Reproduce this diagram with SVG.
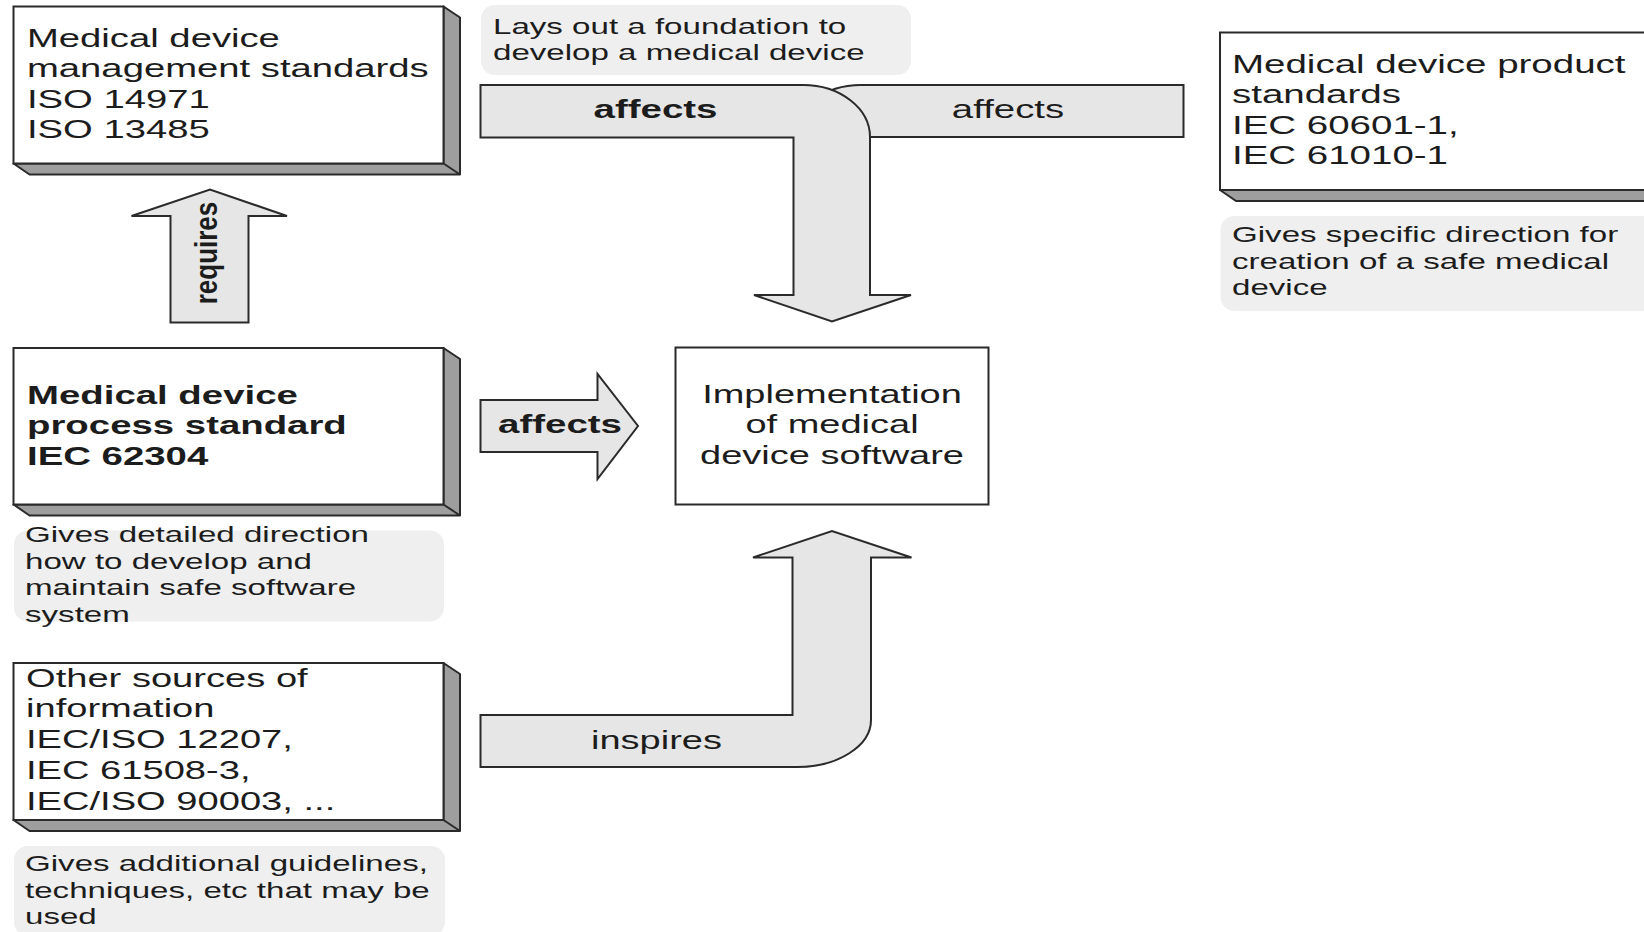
<svg xmlns="http://www.w3.org/2000/svg" width="1644" height="932" viewBox="0 0 1644 932">
  <style>
    .t { font-family: "Liberation Sans", Arial, sans-serif; font-size: 25px; fill: #1c1c1c; }
    .b { font-weight: bold; }
    .n { font-family: "Liberation Sans", Arial, sans-serif; font-size: 22px; fill: #1c1c1c; }
    .mid { text-anchor: middle; }
    .front { fill: #ffffff; stroke: #2a2a2a; stroke-width: 2; }
    .depth { fill: #9e9e9e; stroke: #2a2a2a; stroke-width: 2; stroke-linejoin: round; }
    .note { fill: #efefef; stroke: none; }
    .arrow { fill: #e6e6e6; stroke: #2a2a2a; stroke-width: 2; stroke-linejoin: miter; }
  </style>
  <rect width="1644" height="932" fill="#ffffff"/>

  <!-- connectors: block arrows -->
  <g id="connectors">
    <!-- requires (up) -->
    <g id="arrow-requires">
      <path class="arrow" d="M170.5,322.5 L170.5,216 L131.5,216 L210,189.5 L287,216 L248.5,216 L248.5,322.5 Z"/>
      <text class="t b mid" transform="translate(216.5,253) rotate(-90) scale(1.04,1.28)">requires</text>
    </g>
    <!-- affects (right arm, drawn behind) -->
    <g id="arrow-affects-right">
      <path class="arrow" d="M1183.5,85 L861,85 A67,52 0 0 0 794,137 L870,137 L1183.5,137 Z"/>
      <text class="t mid" transform="translate(1008,117.5) scale(1.535,1)">affects</text>
    </g>
    <!-- affects (left arm, bending down) -->
    <g id="arrow-affects-left">
      <path class="arrow" d="M480.5,85 L803,85 A67,52 0 0 1 870,137 L870,295 L911,295 L832,321.5 L754,295 L793.5,295 L793.5,137.5 L480.5,137.5 Z"/>
      <text class="t b mid" transform="translate(655.5,117.5) scale(1.54,1)">affects</text>
    </g>
    <!-- affects (straight, to the right) -->
    <g id="arrow-affects-mid">
      <path class="arrow" d="M480.5,400 L597.5,400 L597.5,374 L638,426 L597.5,479 L597.5,452 L480.5,452 Z"/>
      <text class="t b mid" transform="translate(560,432.5) scale(1.54,1)">affects</text>
    </g>
    <!-- inspires (bending up) -->
    <g id="arrow-inspires">
      <path class="arrow" d="M480.5,715 L792.5,715 L792.5,557.5 L753,557.5 L832,531 L911.5,557.5 L871,557.5 L871,720 A74,47 0 0 1 797,767 L480.5,767 Z"/>
      <text class="t mid" transform="translate(656.5,749) scale(1.52,1)">inspires</text>
    </g>
  </g>

  <!-- management standards -->
  <g id="node-management">
    <path class="depth" d="M443.5,6.5 L460,17.5 L460,174.5 L29.5,174.5 L13.5,163.5 L443.5,163.5 Z M443.5,163.5 L460,174.5"/>
    <rect class="front" x="13.5" y="6.5" width="430" height="157"/>
    <text class="t" transform="translate(27,46.5) scale(1.53,1)"><tspan x="0" dy="0">Medical device</tspan><tspan x="0" dy="30.7">management standards</tspan><tspan x="0" dy="30.5">ISO 14971</tspan><tspan x="0" dy="30.5">ISO 13485</tspan></text>
  </g>

  <!-- foundation note -->
  <g id="note-foundation">
    <rect class="note" x="481" y="5" width="430" height="70" rx="14"/>
    <text class="n" transform="translate(493,34) scale(1.505,1)"><tspan x="0" dy="0">Lays out a foundation to</tspan><tspan x="0" dy="26">develop a medical device</tspan></text>
  </g>

  <!-- product standards -->
  <g id="node-product">
    <path class="depth" d="M1650,32.5 L1666,43.5 L1666,201 L1236,201 L1220,190 L1650,190 Z"/>
    <rect class="front" x="1220" y="32.5" width="430" height="157.5"/>
    <text class="t" transform="translate(1232,73) scale(1.54,1)"><tspan x="0" dy="0">Medical device product</tspan><tspan x="0" dy="30.3">standards</tspan><tspan x="0" dy="30.5">IEC 60601-1,</tspan><tspan x="0" dy="30.5">IEC 61010-1</tspan></text>
  </g>

  <!-- product note -->
  <g id="note-product">
    <rect class="note" x="1220.5" y="216" width="440" height="95" rx="14"/>
    <text class="n" transform="translate(1232,242) scale(1.505,1)"><tspan x="0" dy="0">Gives specific direction for</tspan><tspan x="0" dy="27">creation of a safe medical</tspan><tspan x="0" dy="26.5">device</tspan></text>
  </g>

  <!-- process standard -->
  <g id="node-process">
    <path class="depth" d="M443.5,348 L460,359 L460,515.5 L29.5,515.5 L13.5,504.5 L443.5,504.5 Z M443.5,504.5 L460,515.5"/>
    <rect class="front" x="13.5" y="348" width="430" height="156.5"/>
    <text class="t b" transform="translate(27,403.5) scale(1.535,1)"><tspan x="0" dy="0">Medical device</tspan><tspan x="0" dy="31">process standard</tspan><tspan x="0" dy="31">IEC 62304</tspan></text>
  </g>

  <!-- process note -->
  <g id="note-process">
    <rect class="note" x="14" y="530.5" width="430" height="91" rx="14"/>
    <text class="n" transform="translate(25,542) scale(1.505,1)"><tspan x="0" dy="0">Gives detailed direction</tspan><tspan x="0" dy="27">how to develop and</tspan><tspan x="0" dy="26.5">maintain safe software</tspan><tspan x="0" dy="26.2">system</tspan></text>
  </g>

  <!-- implementation -->
  <g id="node-implementation">
    <rect class="front" x="675.5" y="347.5" width="313" height="157"/>
    <text class="t mid" transform="translate(832,402.7) scale(1.52,1)"><tspan x="0" dy="0">Implementation</tspan><tspan x="0" dy="30.5">of medical</tspan><tspan x="0" dy="30.5">device software</tspan></text>
  </g>

  <!-- other sources -->
  <g id="node-other">
    <path class="depth" d="M443.5,663 L460,674 L460,831 L29.5,831 L13.5,820 L443.5,820 Z M443.5,820 L460,831"/>
    <rect class="front" x="13.5" y="663" width="430" height="157"/>
    <text class="t" transform="translate(26,687) scale(1.525,1)"><tspan x="0" dy="0">Other sources of</tspan><tspan x="0" dy="30.5">information</tspan><tspan x="0" dy="31">IEC/ISO 12207,</tspan><tspan x="0" dy="31">IEC 61508-3,</tspan><tspan x="0" dy="31">IEC/ISO 90003, ...</tspan></text>
  </g>

  <!-- other sources note -->
  <g id="note-other">
    <rect class="note" x="14" y="846" width="431" height="90" rx="14"/>
    <text class="n" transform="translate(25,871) scale(1.505,1)"><tspan x="0" dy="0">Gives additional guidelines,</tspan><tspan x="0" dy="27">techniques, etc that may be</tspan><tspan x="0" dy="26.5">used</tspan></text>
  </g>
</svg>
